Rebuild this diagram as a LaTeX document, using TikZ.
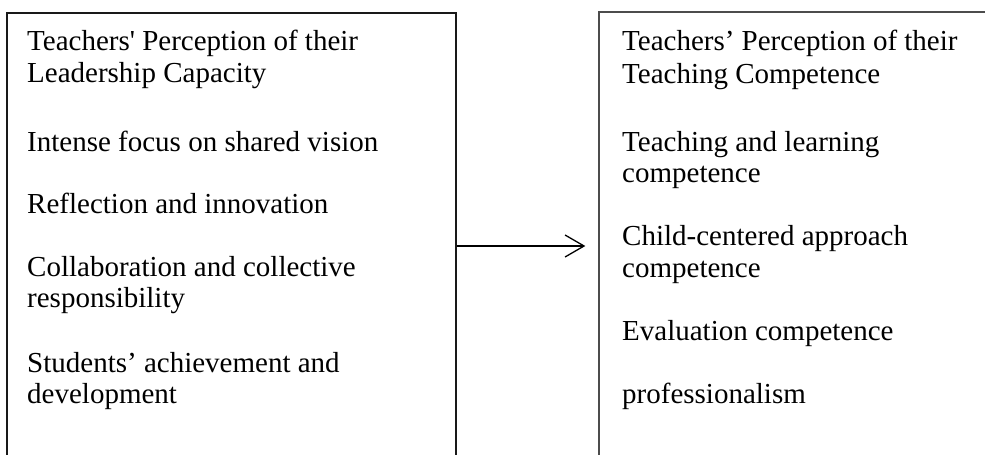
\documentclass[tikz,border=0pt]{standalone}
\usepackage{fontspec}
\setmainfont{Liberation Serif}
\newfontfamily\rawserif{Liberation Serif}
\usetikzlibrary{arrows.meta}
\begin{document}
\begin{tikzpicture}[x=1pt,y=1pt,
  boxframe/.style={draw=#1,line width=1.3pt,rectangle,inner sep=0pt},
  txt/.style={anchor=base west,inner sep=0pt,
    font=\fontsize{29}{31.5}\selectfont},
  conn/.style={line width=1.3pt,-{Straight Barb[length=19pt,width=22pt,line width=1.3pt]}}]
\useasboundingbox[fill=white] (0,0) rectangle (985,-455);
\begin{scope}
\clip (0,0) rectangle (985,-455);
\node[boxframe=black!90,minimum width=449pt,minimum height=466pt] (leftbox) at (231.5,-246) {};
\node[boxframe=black!70,minimum width=391pt,minimum height=468pt] (rightbox) at (794.5,-246) {};
\end{scope}
\draw[conn,shorten >=13pt] (leftbox.east) -- (rightbox.west);
% left texts
\node[txt] (l1a) at (27,-50.7) {Teachers{\rawserif '} Perception of their};
\node[txt] (l1b) at (27,-82.7) {Leadership Capacity};
\node[txt] (l2) at (27,-151) {Intense focus on shared vision};
\node[txt] (l3) at (27,-213) {Reflection and innovation};
\node[txt] (l4a) at (27,-276.7) {Collaboration and collective};
\node[txt] (l4b) at (27,-307) {responsibility};
\node[txt] (l5a) at (27,-372) {Students’ achievement and};
\node[txt] (l5b) at (27,-403) {development};
% right texts
\node[txt] (r1a) at (622,-50.7) {Teachers’ Perception of their};
\node[txt] (r1b) at (622,-83) {Teaching Competence};
\node[txt] (r2a) at (622,-151) {Teaching and learning};
\node[txt] (r2b) at (622,-182) {competence};
\node[txt] (r3a) at (622,-245) {Child-centered approach};
\node[txt] (r3b) at (622,-277) {competence};
\node[txt] (r4) at (622,-340) {Evaluation competence};
\node[txt] (r5) at (622,-403) {professionalism};
\end{tikzpicture}
\end{document}
